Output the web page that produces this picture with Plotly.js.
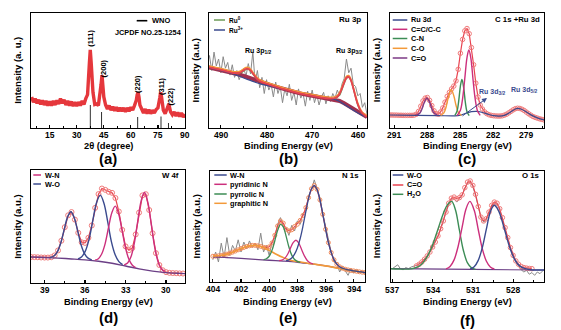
<!DOCTYPE html>
<html><head><meta charset="utf-8">
<script src="https://cdn.plot.ly/plotly-3.0.1.min.js"></script>
<style>html,body{margin:0;padding:0;background:#fff}#chart{width:561px;height:330px}</style>
</head><body><div id="chart"></div>
<script>
// ---------- (a) XRD ----------
const xrdX = [5,6,7,8,9,10,11,12,13,14,15,16,17,18,19,20,21,22,23,24,25,26,27,28,29,30,31,32,33,34,35,36,37,37.5,38,39,40,41,42,43,43.5,44,44.5,45,46,47,48,49,50,51,52,53,54,55,56,57,58,59,60,61,62,63,63.5,64,64.5,65,66,67,68,69,70,71,72,73,74,75,76,76.5,77,77.5,78,79,80,80.5,81,81.5,82,83,84,85,86,87,88,89,90];
const xrdY = [27,22.5,25.5,21.5,24.5,20.5,24,20,23.5,19.5,23,19.5,23.5,20,24,21,25.5,21.5,24.5,20,23.5,19.5,23,19,22.5,19,22.5,19.5,23.5,20.5,25.5,29,56,68,57,31,20.5,21,19.5,29,38,46,39,27,20,16.5,19.5,15.5,18.5,15,18,14.5,17.5,14.5,17.5,14,17.5,14.5,18,15.5,19.5,24,29,31,27,20,16.5,13,16.5,12.5,16,12.5,15.5,13,16,17.5,26,31,27,19,15.5,12.5,15.5,18.5,21,17,14,11.5,14,10.5,13.5,10,13,9.5,12];
const stickX = [37.5,43.8,63.8,76.7,80.8];
const stickH = [20,14,9.5,10,4.3];
const hklLabels = ['(111)','(200)','(220)','(311)','(222)'];
const hklX = [37.9,44.7,63.8,76.7,82.0];
const hklY = [78.5,52,38,36.5,27];

// ---------- (b) Ru 3p ----------
const bRawX = [493,492.5,492,491.5,491,490.5,490,489.5,489,488.5,488,487.5,487,486.5,486,485.5,485,484.5,484,483.5,483,482.5,482,481.5,481,480.5,480,479.5,479,478.5,478,477.5,477,476.5,476,475.5,475,474.5,474,473.5,473,472.5,472,471.5,471,470.5,470,469.5,469,468.5,468,467.5,467,466.5,466,465.5,465,464.5,464,463.5,463,462.5,462,461.5,461,460.5,460,459.5,459,458.5,458];
const bRawY = [55,63,50,66,54,60,48,62,52,57,46,55,44,50,42,48,52,45,56,47,66,40,50,35,44,30,42,33,38,27,40,30,36,22,34,28,38,24,31,20,34,26,30,19,32,24,33,22,29,20,27,31,21,28,23,30,26,33,28,38,43,60,48,52,38,36,28,30,18,22,12];
const bBgX = [493,490,488,486,484,482,480,478,476,474,472,470,468,466,465,464,463,462,461,460,459,458];
const bBgY = [53,50.5,48.5,46.5,44,41,38.5,36,33.5,31.5,29.5,28,26.5,25.5,25,23.5,21.5,19,16.5,14,11.5,9.5];
const bEnvX = [493,490,488,487,486,485.5,485,484.5,484,483.5,483,482.5,482,481,480,478,476,474,472,470,468,466,465,464.5,464,463.5,463,462.5,462,461.5,461,460.5,460,459.5,459,458.5,458];
const bEnvY = [53,50.5,48.5,47.7,47.9,48.9,50.2,51.5,51.5,50.1,47.4,44.8,42.4,39.9,38.5,36,33.5,31.5,29.5,28,26.5,25.6,26.1,27.2,29.8,34.2,39.5,43.7,44.5,41.2,34.5,27.0,20.3,15.7,12.6,10.9,9.6];
const bRu0X = [486.5,485.5,485,484.5,484,483.5,483,482.5,481.5,null,465,464,463.5,463,462.5,462,461.5,461,460.5,460,459.5,459];
const bRu0Y = [47.0,48.2,49.5,50.8,51.0,49.6,46.8,44.2,40.5,null,25.5,28.5,33,38.5,43,44,41,34,26.5,19.8,15.2,12.2];
const bRu3X = [493,490,487,485,483,481,479,477,474,470,467,465,464,463,462,461,460,459,458];
const bRu3Y = [52.5,50,46.5,43.5,40.5,38,36.2,34.3,31.5,28,26,24.8,23,20.5,18,15.5,13,11,9.5];

// ---------- (c) C 1s + Ru 3d ----------
const cGridX = [291.4,291.2,291.0,290.8,290.6,290.4,290.2,290.0,289.8,289.6,289.4,289.2,289.0,288.8,288.6,288.4,288.2,288.0,287.8,287.6,287.4,287.2,287.0,286.8,286.6,286.4,286.2,286.0,285.8,285.6,285.4,285.2,285.0,284.8,284.6,284.4,284.2,284.0,283.8,283.6,283.4,283.2,283.0,282.8,282.6,282.4,282.2,282.0,281.8,281.6,281.4,281.2,281.0,280.8,280.6,280.4,280.2,280.0,279.8,279.6,279.4,279.2,279.0,278.8,278.6,278.4,278.2,278.0,277.8,277.6,277.4];
const cEnvY = [11.3,11.3,11.2,11.2,11.1,11.1,11.0,11.0,11.0,11.0,11.0,11.2,12.0,14.5,19.0,23.5,26.0,26.5,24.0,19.5,15.0,12.5,12.0,14.0,17.5,22.5,27.5,31.0,34.0,36.5,41.0,51.0,65.0,77.0,84.5,86.5,82.0,70.0,55.0,39.0,27.0,20.0,16.5,14.0,12.5,11.5,11.0,10.7,10.5,10.4,10.4,10.6,11.2,12.0,13.2,14.5,15.8,16.8,17.2,17.0,16.3,15.2,13.8,12.4,11.2,10.0,9.2,8.6,8.0,7.5,7.0];
const cRuX = [291.4,289,287,285.5,285,284.5,284,283.5,283,282.5,282,281.5,281,280.5,280,279.8,279.5,279,278.5,278,277.4];
const cRuY = [11.3,11.0,10.8,10.6,11.2,12.8,14.2,14.5,13.5,12.0,10.8,10.4,11.0,13.5,16.5,17.1,16.5,14.0,11.0,8.8,7.0];
const cCdOX = [289.0,288.7,288.5,288.3,288.04,287.8,287.6,287.4,287.1];
const cCdOY = [11.1,12.8,16.3,21.8,26.0,22.3,16.8,13.0,11.2];
const cCOX = [286.8,286.5,286.3,286.1,285.83,285.6,285.4,285.2,284.9];
const cCOY = [10.9,13.2,18.3,26.5,33.2,28.0,19.8,13.8,10.8];
const cCNX = [285.5,285.3,285.15,285.0,284.86,284.7,284.55,284.4,284.2];
const cCNY = [11.0,14.8,23.8,36.4,42.3,34.9,22.3,14.1,10.8];
const cCCX = [285.3,285.0,284.8,284.6,284.4,284.23,284.05,283.85,283.65,283.45,283.2];
const cCCY = [10.8,15.4,25.6,43.1,61.3,67.8,60.8,42.0,24.8,15.1,11.0];

// ---------- (d) W 4f ----------
const dGridX = [40,39.75,39.5,39.25,39,38.75,38.5,38.25,38,37.75,37.5,37.25,37,36.75,36.5,36.25,36,35.75,35.5,35.25,35,34.75,34.5,34.25,34,33.75,33.5,33.25,33,32.75,32.5,32.25,32,31.75,31.5,31.25,31,30.75,30.5,30.25,30,29.75,29.5,29.25,29,28.75];
const dEnvY = [23.0,22.9,22.8,22.6,22.5,22.5,22.8,24.4,28.8,37.4,49.4,59.9,62.8,56.1,44.4,36.0,35.5,40.0,50.9,66.5,78.7,83.6,82.4,80.7,79.8,75.2,63.3,47.0,32.4,29.0,31.0,43.0,62.3,77.5,78.6,64.6,44.0,26.4,15.9,11.3,9.6,9.0,8.8,8.7,8.5,8.4];
const dBaseX = [40,39,38,37,36,35,34,33,32,31,30,29,28.6];
const dBaseY = [23,22.5,22,21.3,20.5,19.3,17.5,15,12.5,10.5,9.2,8.5,8.3];
const dWO1X = [38.6,38.3,38.05,37.8,37.55,37.3,37.05,36.8,36.55,36.3,36.05,35.8,35.5];
const dWO1Y = [22.6,23.9,27.6,35.1,47.0,58.1,63.0,57.8,46.3,34.1,26.2,22.2,20.4];
const dWO2X = [36.52,36.245,35.97,35.695,35.42,35.145,34.87,34.595,34.32,34.045,33.77,33.495,33.22];
const dWO2Y = [21.4,23.3,28.4,39.0,55.7,71.2,77.8,70.4,54.0,36.4,25.0,18.9,16.2];
const dWN1X = [35.26,35.01,34.76,34.51,34.26,34.01,33.76,33.51,33.26,33.01,32.76,32.51,32.26];
const dWN1Y = [20.2,21.5,25.9,34.9,49.1,62.3,68.0,61.1,46.7,31.3,21.3,16.0,13.7];
const dWN2X = [33.1,32.85,32.6,32.35,32.1,31.85,31.6,31.35,31.1,30.85,30.6,30.35,30.1];
const dWN2Y = [16.0,17.6,23.2,35.3,54.6,72.5,80.1,71.4,52.5,32.2,19.1,12.6,10.2];

// ---------- (e) N 1s ----------
const eGridX = [404.0,403.8,403.6,403.4,403.2,403.0,402.8,402.6,402.4,402.2,402.0,401.8,401.6,401.4,401.2,401.0,400.8,400.6,400.4,400.2,400.0,399.8,399.6,399.4,399.2,399.0,398.8,398.6,398.4,398.2,398.0,397.8,397.6,397.4,397.2,397.0,396.8,396.6,396.4,396.2,396.0,395.8,395.6,395.4,395.2,395.0,394.8,394.6,394.4,394.2,394.0,393.8,393.6,393.4,393.2];
const eRawY = [20,27,18,35,22,40,24,33,28,38,27,36,30,37,31,35,29,44,27,33,24,36,40,52,58,50,49,42,51,46,55,52,62,64,78,83,92,84,76,62,50,36,27,18,17,9,14,10,6,12,8,11,9,10,8];
const eEnvY = [23.2,23.3,23.6,23.9,24.5,25.1,25.9,26.9,27.9,29.0,30.1,31.1,32.0,32.6,33.0,33.0,32.6,32.0,31.2,30.9,31.7,35.2,42.1,50.5,55.0,53.0,47.5,46.0,47.0,50.0,52.0,55.5,60.0,67.0,76.0,84.0,87.0,83.5,74.0,61.0,47.5,35.5,26.5,20.0,16.0,13.7,12.4,11.5,10.9,10.4,10.0,9.6,9.2,8.8,8.5];
const eBaseX = [404,403,402,401,400,399,398,397,396,395,394,393.2];
const eBaseY = [22.6,22,21.2,20.4,19.6,18.8,17.8,16.3,14.5,12.2,10,8.5];
const eGraphX = [404,403.5,403,402.5,402,401.5,401,400.5,400,399.5,399,398.5,398,397,396,395,394,393.2];
const eGraphY = [23.2,23.8,25.1,27.4,30.1,32.3,33.0,31.5,28.5,25.0,22.0,19.6,18.4,16.4,14.5,12.2,10,8.5];
const ePyrrX = [400.4,400.2,400.0,399.8,399.6,399.4,399.2,399.0,398.8,398.6,398.4,398.2,398.0,397.8];
const ePyrrY = [20.1,20.9,23.2,28.5,37.2,46.6,51.9,49.7,41.3,31.5,24.2,20.3,18.6,17.7];
const ePyrdX = [399.3,399.1,398.9,398.7,398.5,398.3,398.1,397.9,397.7,397.5,397.3,397.1,396.9];
const ePyrdY = [19.2,19.7,21.3,24.8,30.3,35.5,37.6,35.0,29.3,23.5,19.4,17.3,16.3];
const eWNX = [398.8,398.6,398.4,398.2,398.0,397.8,397.6,397.4,397.2,397.0,396.8,396.6,396.4,396.2,396.0,395.8,395.6,395.4,395.2,395.0,394.8,394.4,394.0,393.2];
const eWNY = [19.2,20.0,21.6,25.1,30.7,39.2,50.5,63.4,75.4,84.0,86.9,83.2,74.0,61.3,47.8,35.7,26.5,20.2,16.1,13.8,12.4,10.9,10.0,8.5];

// ---------- (f) O 1s ----------
const fGridX = [537.0,536.8,536.6,536.4,536.2,536.0,535.8,535.6,535.4,535.2,535.0,534.8,534.6,534.4,534.2,534.0,533.8,533.6,533.4,533.2,533.0,532.8,532.6,532.4,532.2,532.0,531.8,531.6,531.4,531.2,531.0,530.8,530.6,530.4,530.2,530.0,529.8,529.6,529.4,529.2,529.0,528.8,528.6,528.4,528.2,528.0,527.8,527.6,527.4,527.2,527.0,526.8,526.6,526.4,526.2,526.0,525.8];
const fRawY = [12,13.5,15.5,12,11,13,12,13.5,14,15,16.5,18,21,23,27.5,31,36.5,41,48.5,54.5,63.5,70,75,75,72,75,78,84.5,89,90,86,78,67,58,54,56,62,68,71,70,65,57,48,39,30,23,18,14.5,11,9,10.5,7,8.5,6,9,7.5,10];
const fEnvX = [535.2,535.0,534.8,534.6,534.4,534.2,534.0,533.8,533.6,533.4,533.2,533.0,532.8,532.6,532.4,532.2,532.0,531.8,531.6,531.4,531.2,531.0,530.8,530.6,530.4,530.2,530.0,529.8,529.6,529.4,529.2,529.0,528.8,528.6,528.4,528.2,528.0,527.8,527.6,527.4,527.2,527.0,526.8,526.6];
const fEnvY = [14.5,16.0,18.0,20.5,23.5,27.0,31.5,36.0,41.5,48.0,55.0,63.0,71.0,75.5,76.5,75.0,76.0,78.5,85.0,90.0,91.0,87.0,79.0,68.0,58.5,55.0,57.0,63.0,69.0,72.0,71.0,66.0,58.0,49.0,40.0,31.0,24.0,19.0,16.0,14.0,13.0,12.5,12.2,12.0];
const fBaseX = [537.1,531,525.7];
const fBaseY = [12,11.3,10.8];
const fH2OX = [537.1,535.6,535.2,534.8,534.4,534.0,533.6,533.2,532.9,532.58,532.3,532.0,531.7,531.4,531.1,530.8];
const fH2OY = [12,11.8,13.1,16.3,22.8,33.5,47.6,61.8,69.5,72.6,65.1,46.5,28.2,17.2,12.7,11.4];
const fCOX = [533.0,532.7,532.4,532.1,531.8,531.5,531.22,530.9,530.6,530.3,530.0,529.7,529.4];
const fCOY = [11.8,14.0,19.9,32.0,49.5,66.2,72.6,64.6,47.3,30.2,18.9,13.6,11.7];
const fWOX = [531.2,530.9,530.6,530.3,530.0,529.7,529.42,529.1,528.7,528.3,527.9,527.5,527.1,526.7,525.7];
const fWOY = [11.8,13.8,19.5,30.8,47.4,63.1,69.1,64.6,49.8,32.9,20.6,14.3,12.0,11.1,10.8];

// ---------- layout helpers ----------
const W = 561, H = 330;
const FONT = 'Liberation Sans, Arial, sans-serif';
const C = {navy:'#3a4a8e', mag:'#cc2f7c', green:'#3c8c55', olive:'#6b9a56', orange:'#f39a3a', purple:'#7c3a86',
           red:'#e8424f', pink:'#f07a7a', gray:'#8a8a8a', base:'#6b3f86', xrd:'#e3262b', maroon:'#a0304e'};
const P = [
  {l:31, r:185, t:13, b:128, xr:[4.66,90], d:15, t0:15, m:7.5, ty:135.3},
  {l:209, r:367, t:13, b:128, xr:[492.6,458], d:10, t0:460, m:5, ty:135.3},
  {l:390, r:544, t:13, b:128, xr:[291.4,277.4], d:3, t0:279, m:1.5, ty:135.3},
  {l:31, r:185, t:170, b:283, xr:[40,28.6], d:3, t0:30, m:1.5, ty:290},
  {l:210, r:365, t:171, b:282, xr:[404.2,393.2], d:2, t0:394, m:1, ty:289.3},
  {l:391, r:544, t:171, b:282, xr:[537.1,525.7], d:3, t0:528, m:1.5, ty:289.5}
];
const px = v => v / W, py = v => 1 - v / H;
const layout = {width:W, height:H, margin:{l:0,r:0,t:0,b:0}, paper_bgcolor:'#fff', plot_bgcolor:'#fff',
  showlegend:false, font:{family:FONT, size:9, color:'#000', weight:'bold'}, annotations:[], shapes:[]};
P.forEach((p,i) => {
  const k = i ? String(i+1) : '';
  layout['xaxis'+k] = {domain:[px(p.l), px(p.r)], range:p.xr, anchor:'y'+k, tickmode:'linear', tick0:p.t0, dtick:p.d,
    ticks:'inside', ticklen:3.5, tickwidth:1.2, tickcolor:'#000', showline:true, linecolor:'#000', linewidth:1.3, mirror:true,
    showgrid:false, zeroline:false, showticklabels:false,
    minor:{dtick:p.m, tick0:p.t0, ticks:'inside', ticklen:2, tickwidth:1, tickcolor:'#000', showgrid:false}};
  layout['yaxis'+k] = {domain:[py(p.b), py(p.t)], range:[0,100], anchor:'x'+k, showline:true, linecolor:'#000',
    linewidth:1.3, mirror:true, showticklabels:false, ticks:'', showgrid:false, zeroline:false};
  // tick labels drawn as annotations placed on the axis scale
  const lo = Math.min(p.xr[0], p.xr[1]), hi = Math.max(p.xr[0], p.xr[1]);
  for (let v = p.t0; v <= hi + 1e-9; v += p.d) {
    if (v < lo) continue;
    layout.annotations.push({xref:'x'+k, yref:'paper', x:v, y:py(p.ty), text:String(v), showarrow:false,
      xanchor:'center', yanchor:'middle', font:{family:FONT, size:8.5, weight:'bold', color:'#000'}});
  }
});
function txt(x, y, text, o) {
  layout.annotations.push(Object.assign({xref:'paper', yref:'paper', x:px(x), y:py(y), text:text, showarrow:false,
    xanchor:'center', yanchor:'middle', font:{family:FONT, size:8, weight:'bold', color:'#000'}}, o || {}));
}
function seg(x0, x1, y, color, w) {
  layout.shapes.push({type:'line', xref:'paper', yref:'paper', x0:px(x0), x1:px(x1), y0:py(y), y1:py(y), line:{color:color, width:w || 1.5}});
}
function legendBlock(x0, x1, ys, colors, labels, fs) {
  ys.forEach((y,i) => { seg(x0, x1, y, colors[i], 1.5); txt(x1 + 1.5, y, labels[i], {xanchor:'left', font:{family:FONT, size:fs, weight:'bold', color:'#000'}}); });
}
// axis titles + panel letters
const xt = ['2θ (degree)','Binding Energy (eV)','Binding Energy (eV)','Binding Energy (eV)','Binding Energy (eV)','Binding Energy (eV)'];
const yt = ['Intensity (a. u.)','Intensity (a.u.)','Intensity (a.u.)','Intensity (a.u.)','Intensity (a.u.)','Intensity (a.u.)'];
const letters = ['(a)','(b)','(c)','(d)','(e)','(f)'];
const xtY = [145.5, 146.3, 146.3, 301.7, 301.7, 302.3];
const letY = [158, 158.5, 158.5, 317.5, 317, 320];
const ytX = [17.3, 195, 376.7, 17.3, 196, 376.7];
P.forEach((p,i) => {
  const cx = (p.l + p.r) / 2, cy = (p.t + p.b) / 2;
  txt(cx, xtY[i], xt[i], {font:{family:FONT, size:9.3, weight:'bold', color:'#000'}});
  txt(cx, letY[i], letters[i], {font:{family:FONT, size:15, weight:'bold', color:'#000'}});
  txt(ytX[i], cy, yt[i], {textangle:-90, font:{family:FONT, size:9.5, weight:'bold', color:'#000'}});
});

// ---------- traces ----------
const tr = [];
function L(x, y, ax, color, width, extra) {
  tr.push(Object.assign({type:'scatter', mode:'lines', x:x, y:y, xaxis:'x'+ax, yaxis:'y'+ax,
    line:{color:color, width:width}, hoverinfo:'skip', connectgaps:false}, extra || {}));
}
function S(x, y, ax, color, width) { L(x, y, ax, color, width, {line:{color:color, width:width, shape:'spline', smoothing:1}}); }
function ENV(x, y, ax, mcol, lcol, ms) {
  tr.push({type:'scatter', mode:'lines+markers', x:x, y:y, xaxis:'x'+ax, yaxis:'y'+ax, hoverinfo:'skip',
    line:{color:lcol, width:1.2}, marker:{symbol:'circle-open', size:ms, color:mcol, line:{width:1, color:mcol}}});
}
// (a)
tr.push({type:'bar', x:stickX, y:stickH, xaxis:'x', yaxis:'y', width:0.45, marker:{color:'#000', line:{width:0}}, hoverinfo:'skip'});
L(xrdX, xrdY, '', C.xrd, 3.4, {opacity:0.92});
hklLabels.forEach((t,i) => layout.annotations.push({xref:'x', yref:'y', x:hklX[i], y:hklY[i], text:t, textangle:-90, showarrow:false,
  font:{family:FONT, size:7.5, weight:'bold', color:'#000'}}));
seg(136.7, 147.3, 20.7, '#000', 1.6);
txt(150, 20.7, 'WNO', {xanchor:'left', font:{family:FONT, size:7.5, weight:'bold', color:'#000'}});
txt(184, 33, 'JCPDF NO.25-1254', {xanchor:'right', font:{family:FONT, size:7.3, weight:'bold', color:'#000'}});
// (b)
L(bRawX, bRawY, '2', C.gray, 1);
L(bBgX, bBgY, '2', C.maroon, 4);
S(bRu3X, bRu3Y, '2', C.navy, 1.2);
S(bEnvX, bEnvY.map(v => v + 1.2), '2', C.orange, 1.5);
S(bRu0X, bRu0Y, '2', C.olive, 1.2);
S(bEnvX, bEnvY, '2', C.red, 1.8);
legendBlock(214, 225, [20, 30], [C.olive, C.navy], ['Ru<sup>0</sup>', 'Ru<sup>3+</sup>'], 6.5);
txt(363, 20, 'Ru 3p', {xanchor:'right', font:{family:FONT, size:8, weight:'bold', color:'#000'}});
txt(258, 51.5, 'Ru 3p<sub>1/2</sub>', {font:{family:FONT, size:7, weight:'bold', color:'#000'}});
txt(349.5, 51.5, 'Ru 3p<sub>3/2</sub>', {font:{family:FONT, size:7, weight:'bold', color:'#000'}});
// (c)
ENV(cGridX, cEnvY, '3', C.pink, C.red, 4.5);
S(cRuX, cRuY, '3', C.navy, 1.2);
S(cCdOX, cCdOY, '3', C.purple, 1.4);
S(cCOX, cCOY, '3', C.orange, 1.4);
S(cCNX, cCNY, '3', C.green, 1.4);
S(cCCX, cCCY, '3', C.mag, 1.4);
legendBlock(392.7, 407.3, [20, 29.3, 38.5, 48.3, 58], [C.navy, C.mag, C.green, C.orange, C.purple],
  ['Ru 3d', 'C=C/C-C', 'C-N', 'C-O', 'C=O'], 7.3);
txt(541.7, 20, 'C 1s +Ru 3d', {xanchor:'right', font:{family:FONT, size:7.8, weight:'bold', color:'#000'}});
txt(492.5, 91.5, 'Ru 3d<sub>3/2</sub>', {font:{family:FONT, size:7, weight:'bold', color:C.navy}});
txt(524, 90, 'Ru 3d<sub>5/2</sub>', {font:{family:FONT, size:7, weight:'bold', color:C.navy}});
layout.annotations.push({xref:'paper', yref:'paper', x:px(487), y:py(98), ax:-26, ay:19, text:'', showarrow:true,
  arrowhead:2, arrowsize:1, arrowwidth:1, arrowcolor:C.navy});
// (d)
ENV(dGridX, dEnvY, '4', C.pink, C.red, 5);
S(dBaseX, dBaseY, '4', C.base, 1.4);
S(dWO1X, dWO1Y, '4', C.navy, 1.4);
S(dWO2X, dWO2Y, '4', C.navy, 1.4);
S(dWN1X, dWN1Y, '4', C.mag, 1.4);
S(dWN2X, dWN2Y, '4', C.mag, 1.4);
legendBlock(33.3, 41, [175, 184], [C.mag, C.navy], ['W-N', 'W-O'], 7.3);
txt(180.5, 175, 'W 4f', {xanchor:'right', font:{family:FONT, size:7.8, weight:'bold', color:'#000'}});
// (e)
L(eGridX, eRawY, '5', C.gray, 1);
ENV(eGridX, eEnvY, '5', '#f08a5a', C.red, 4);
S(eBaseX, eBaseY, '5', C.base, 1.3);
S(eGraphX, eGraphY, '5', C.orange, 1.6);
S(ePyrrX, ePyrrY, '5', C.green, 1.3);
S(ePyrdX, ePyrdY, '5', C.mag, 1.3);
S(eWNX, eWNY, '5', C.navy, 1.3);
legendBlock(214.3, 226.7, [175, 184.3, 194, 203.3], [C.navy, C.mag, C.green, C.orange],
  ['W-N', 'pyridinic N', 'pyrrolic N', 'graphitic N'], 7.3);
txt(360.5, 175, 'N 1s', {xanchor:'right', font:{family:FONT, size:7.8, weight:'bold', color:'#000'}});
// (f)
L(fGridX, fRawY, '6', C.gray, 1);
ENV(fEnvX, fEnvY, '6', C.pink, C.red, 4.5);
S(fBaseX, fBaseY, '6', C.base, 1.2);
S(fH2OX, fH2OY, '6', C.green, 1.4);
S(fCOX, fCOY, '6', C.mag, 1.4);
S(fWOX, fWOY, '6', C.navy, 1.4);
legendBlock(392.7, 403.3, [175, 185, 194.3], [C.navy, C.red, C.green], ['W-O', 'C=O', 'H<sub>2</sub>O'], 7.3);
txt(541.7, 175, 'O 1s', {xanchor:'right', font:{family:FONT, size:7.8, weight:'bold', color:'#000'}});

Plotly.newPlot('chart', tr, layout, {staticPlot:true, displayModeBar:false});
</script></body></html>
